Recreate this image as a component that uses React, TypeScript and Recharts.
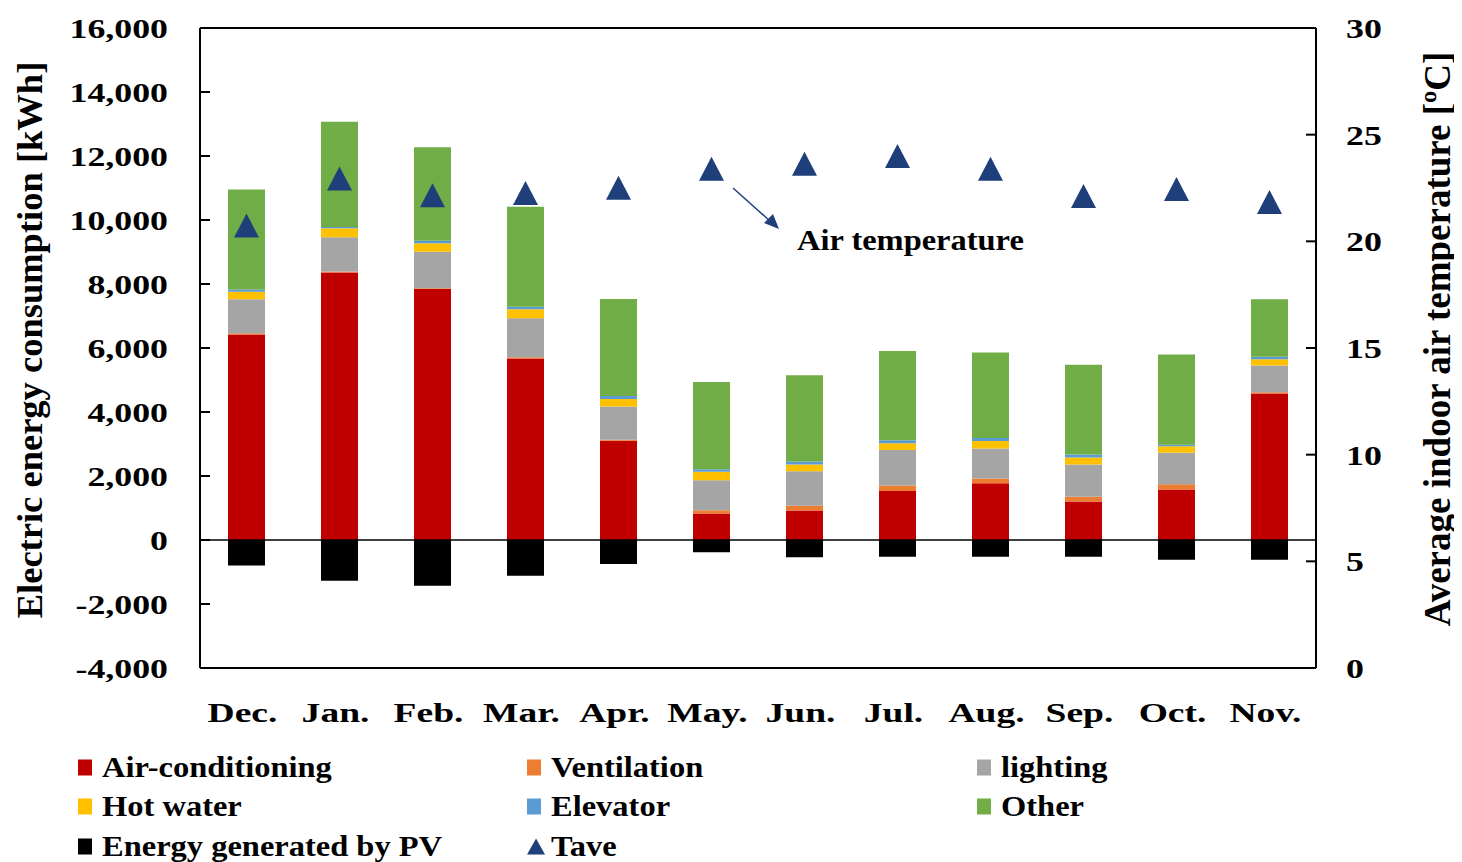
import React from 'react';
import { ComposedChart, Bar, Line, XAxis, YAxis, ReferenceLine } from 'recharts';

const months = ['Dec.', 'Jan.', 'Feb.', 'Mar.', 'Apr.', 'May.', 'Jun.', 'Jul.', 'Aug.', 'Sep.', 'Oct.', 'Nov.'];
const airConditioning = [6420, 8360, 7840, 5670, 3100, 830, 920, 1530, 1770, 1200, 1580, 4580];
const ventilation = [40, 30, 30, 40, 30, 100, 150, 170, 150, 150, 160, 40];
const lighting = [1060, 1070, 1140, 1220, 1040, 940, 1080, 1110, 940, 1010, 990, 830];
const hotWater = [240, 280, 260, 280, 240, 260, 210, 210, 230, 220, 200, 200];
const elevator = [70, 40, 80, 80, 90, 80, 90, 100, 100, 90, 50, 80];
const other = [3125, 3290, 2920, 3125, 3030, 2730, 2700, 2790, 2670, 2810, 2820, 1790];
const pvGenerated = [-800, -1270, -1430, -1120, -750, -380, -540, -520, -520, -520, -620, -620];
const tave = [20.55, 22.76, 21.97, 22.08, 22.33, 23.22, 23.45, 23.81, 23.22, 21.94, 22.27, 21.66];

const leftTicks = [-4000, -2000, 0, 2000, 4000, 6000, 8000, 10000, 12000, 14000, 16000];
const rightTicks = [0, 5, 10, 15, 20, 25, 30];

const series = [
  { key: 'ac', name: 'Air-conditioning', color: '#C00000', values: airConditioning },
  { key: 'vent', name: 'Ventilation', color: '#ED7D31', values: ventilation },
  { key: 'light', name: 'lighting', color: '#A5A5A5', values: lighting },
  { key: 'hot', name: 'Hot water', color: '#FFC000', values: hotWater },
  { key: 'elev', name: 'Elevator', color: '#5B9BD5', values: elevator },
  { key: 'other', name: 'Other', color: '#70AD47', values: other },
  { key: 'pv', name: 'Energy generated by PV', color: '#000000', values: pvGenerated },
];
const TRI_COLOR = '#1F3F7A';

const data = months.map((m, i) => {
  const row: any = { month: m, tave: tave[i] };
  series.forEach((s) => { row[s.key] = s.values[i]; });
  return row;
});

const FONT = '"Liberation Serif", "Times New Roman", serif';
const SX = 1.28;

const fmt = (v: number) => {
  const s = String(Math.abs(v)).replace(/\B(?=(\d{3})+(?!\d))/g, ',');
  return (v < 0 ? '-' : '') + s;
};

const LeftTick = (props: any) => {
  const { x, y, payload } = props;
  return (
    <text x={x / SX} y={y} dy={10} transform={`scale(${SX},1)`} textAnchor="end"
      fontFamily={FONT} fontWeight="bold" fontSize={28} fill="#000">{fmt(payload.value)}</text>
  );
};
const RightTick = (props: any) => {
  const { x, y, payload } = props;
  return (
    <text x={x / SX} y={y} dy={10} transform={`scale(${SX},1)`} textAnchor="start"
      fontFamily={FONT} fontWeight="bold" fontSize={28} fill="#000">{payload.value}</text>
  );
};
const BottomTick = (props: any) => {
  const { x, y, payload } = props;
  return (
    <text x={(x - 4) / 1.34} y={y + 54} transform={`scale(1.34,1)`} textAnchor="middle"
      fontFamily={FONT} fontWeight="bold" fontSize={28} fill="#000">{payload.value}</text>
  );
};

const TriangleDot = (props: any) => {
  const { cx, cy, index } = props;
  if (cx == null || cy == null) return null;
  const w = 25, h = 24;
  const pts = `${cx},${cy - (2 * h) / 3} ${cx - w / 2},${cy + h / 3} ${cx + w / 2},${cy + h / 3}`;
  return <polygon key={`tri-${index}`} points={pts} fill={TRI_COLOR} />;
};

const legendRows = [
  [series[0], series[1], series[2]],
  [series[3], series[4], series[5]],
  [series[6], { key: 'tave', name: 'Tave', color: TRI_COLOR }],
];
const legendCols = [70, 519, 969];
const legendRowY = [759, 798, 838];

export default function App() {
  return (
    <div style={{ position: 'relative', width: 1446, height: 854, background: '#fff' }}>
      <ComposedChart width={1446} height={720} data={data} stackOffset="sign"
        margin={{ top: 20, right: 0, bottom: 0, left: 0 }} barCategoryGap={0}>
        <XAxis dataKey="month" xAxisId="x" interval={0} tickLine={false} tickSize={0} tickMargin={0}
          height={60} axisLine={{ stroke: '#000', strokeWidth: 2 }} tick={<BottomTick />} />
        <YAxis yAxisId="left" orientation="left" width={192} domain={[-4000, 16000]} ticks={leftTicks}
          type="number" allowDataOverflow axisLine={{ stroke: '#000', strokeWidth: 2 }}
          tickLine={{ stroke: '#000', strokeWidth: 2 }} tickSize={-10} tickMargin={42} tick={<LeftTick />} />
        <YAxis yAxisId="right" orientation="right" width={138} domain={[0, 30]} ticks={rightTicks}
          type="number" allowDataOverflow axisLine={{ stroke: '#000', strokeWidth: 2 }}
          tickLine={{ stroke: '#000', strokeWidth: 2 }} tickSize={-10} tickMargin={40} tick={<RightTick />} />
        <ReferenceLine yAxisId="left" xAxisId="x" y={16000} stroke="#000" strokeWidth={2} />
        {series.map((s) => (
          <Bar key={s.key} dataKey={s.key} name={s.name} stackId="a" xAxisId="x" yAxisId="left"
            fill={s.color} barSize={37} isAnimationActive={false} />
        ))}
        <ReferenceLine yAxisId="left" xAxisId="x" y={0} stroke="#000" strokeWidth={1.5} />
        <Line dataKey="tave" name="Tave" xAxisId="x" yAxisId="right" stroke="none"
          dot={<TriangleDot />} activeDot={false} isAnimationActive={false} />
      </ComposedChart>

      <svg width={1454} height={854} style={{ position: 'absolute', left: 0, top: 0, pointerEvents: 'none', overflow: 'visible' }}>
        <text transform="translate(34,332) rotate(-90)" textAnchor="middle" fontFamily={FONT}
          fontWeight="bold" fontSize={36.5} fill="#000">Electric energy consumption [kWh]</text>
        <text transform="translate(1442,331) rotate(-90)" textAnchor="middle" fontFamily={FONT}
          fontWeight="bold" fontSize={37} fill="#000">Average indoor air temperature [ºC]</text>
        <text x={789 / 1.12} y={242} transform="scale(1.12,1)" fontFamily={FONT}
          fontWeight="bold" fontSize={29} fill="#000">Air temperature</text>
        <line x1={725} y1={180} x2={762} y2={213} stroke={TRI_COLOR} strokeWidth={1.5} />
        <polygon points="771,221 756,215 765,206" fill={TRI_COLOR} />
      </svg>

      {legendRows.map((row, ri) =>
        row.map((item: any, ci) => (
          <div key={`${ri}-${ci}`} style={{ position: 'absolute', left: legendCols[ci], top: legendRowY[ri],
            transform: 'translateY(-50%)', display: 'flex', alignItems: 'center', whiteSpace: 'nowrap' }}>
            {item.key === 'tave' ? (
              <svg width={18} height={18} style={{ display: 'block' }}>
                <polygon points="9,1 0,17 18,17" fill={TRI_COLOR} />
              </svg>
            ) : (
              <div style={{ width: 14, height: 16, background: item.color }} />
            )}
            <span style={{ marginLeft: item.key === 'tave' ? 6 : 10, fontFamily: FONT, fontWeight: 'bold',
              fontSize: 29, lineHeight: 1, display: 'inline-block', transform: 'scaleX(1.12)',
              transformOrigin: 'left center', color: '#000' }}>{item.name}</span>
          </div>
        ))
      )}
    </div>
  );
}
